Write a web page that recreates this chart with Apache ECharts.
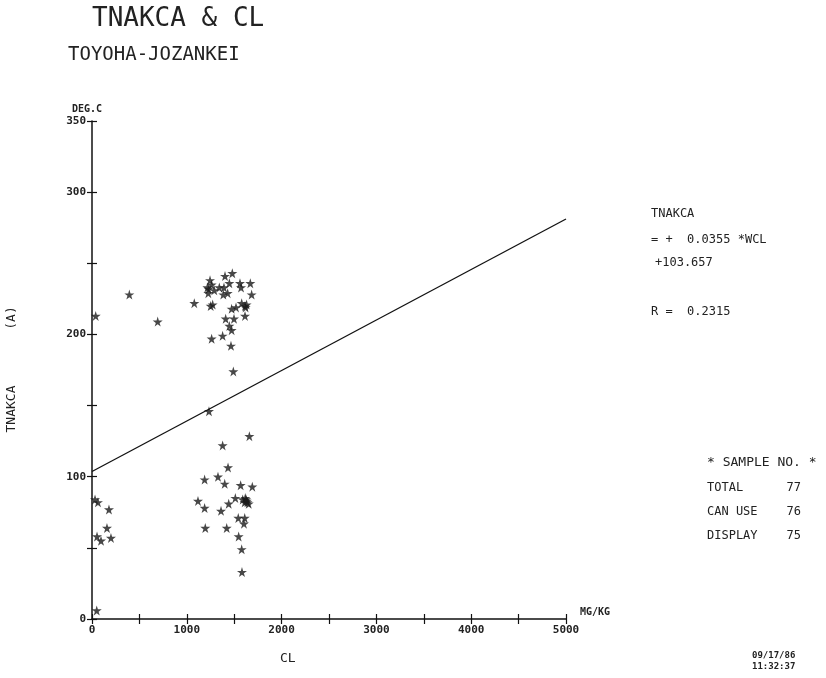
<!DOCTYPE html>
<html>
<head>
<meta charset="utf-8">
<script src="https://cdn.jsdelivr.net/npm/echarts@6/dist/echarts.min.js"></script>
<style>html,body{margin:0;padding:0;background:#fff}#c{width:826px;height:678px}</style>
</head>
<body>
<div id="c"></div>
<script>
// CL (mg/kg) and TNAKCA (deg C) sample values
const clValues = [39,394,693,32,63,179,158,53,95,200,50,
  1079,1245,1217,1262,1227,1290,1343,1403,1480,1449,1392,1385,1431,1561,1572,1670,1684,
  1273,1252,1473,1519,1579,1614,1631,1410,1498,1614,1449,1473,1262,1378,1466,1491,1620,1230,
  1234,
  1660,1378,1435,1188,1329,1400,1568,1691,1118,1188,1361,1442,1512,1590,1617,1632,1653,1611,
  1543,1611,1603,1195,1421,1547,1579,1582,1625,1640];
const tnakcaValues = [213,228,209,84,82,77,64,58,55,57,6,
  222,238,233,235,229,231,233,241,243,236,233,228,229,236,233,236,228,
  221,220,218,219,222,220,221,211,211,213,206,203,197,199,192,174,219,232,
  146,
  128.5,122,106.5,98,100,95,94,93,83,78,76,81,85,84,85,83,81,82,
  71,71,67,64,64,58,49,33,84,82];
// regression line end points (TNAKCA = 0.0355*WCL + 103.657)
const lineCL = [0, 5000];
const lineT = [103.66, 281.16];
const yLabelValues = [0, 100, 200, 300, 350];

const points = clValues.map((x, i) => [x, tnakcaValues[i]]);
const linePts = lineCL.map((x, i) => [x, lineT[i]]);
const star = 'path://M50,0 L61,35 L98,35 L68,57 L79,91 L50,70 L21,91 L32,57 L2,35 L39,35 Z';
const mono = '"DejaVu Sans Mono", "Liberation Mono", monospace';

const chart = echarts.init(document.getElementById('c'), null, {renderer: 'canvas'});
const axisCommon = {
  min: 0,
  axisLine: {show: true, lineStyle: {color: '#111', width: 1.5}},
  splitLine: {show: false}
};
chart.setOption({
  animation: false,
  backgroundColor: '#fff',
  grid: {left: 92, right: 260, top: 121, bottom: 59},
  xAxis: [
    Object.assign({}, axisCommon, {
      type: 'value', max: 5000, interval: 500,
      axisTick: {show: true, length: 5, lineStyle: {color: '#111', width: 1.2}},
      axisLabel: {color: '#222', fontFamily: mono, fontSize: 11, fontWeight: 'bold', margin: 6,
        formatter: v => (v % 1000 === 0 ? String(v) : '')}
    }),
    Object.assign({}, axisCommon, {
      type: 'value', max: 5000, interval: 500, position: 'bottom',
      axisLine: {show: false},
      axisTick: {show: true, inside: true, length: 5, lineStyle: {color: '#111', width: 1.2}},
      axisLabel: {show: false}
    })
  ],
  yAxis: [
    Object.assign({}, axisCommon, {
      type: 'value', max: 350, interval: 50,
      axisTick: {show: true, length: 5, lineStyle: {color: '#111', width: 1.2}},
      axisLabel: {color: '#222', fontFamily: mono, fontSize: 11, fontWeight: 'bold', margin: 6,
        formatter: v => (yLabelValues.indexOf(v) >= 0 ? String(v) : '')}
    }),
    Object.assign({}, axisCommon, {
      type: 'value', max: 350, interval: 50, position: 'left',
      axisLine: {show: false},
      axisTick: {show: true, inside: true, length: 5, lineStyle: {color: '#111', width: 1.2}},
      axisLabel: {show: false}
    })
  ],
  series: [
    {
      type: 'line', data: linePts, showSymbol: false, symbol: 'none',
      lineStyle: {color: '#111', width: 1.3}, silent: true
    },
    {
      type: 'scatter', data: points, symbol: star, symbolSize: 10,
      itemStyle: {color: '#1a1a1a'}
    }
  ],
  graphic: [
    {type: 'text', left: 92, top: 6, style: {text: 'TNAKCA & CL', font: '300 26px ' + mono, fill: '#222'}},
    {type: 'text', left: 68, top: 46, style: {text: 'TOYOHA-JOZANKEI', font: '19px ' + mono, fill: '#222'}},
    {type: 'text', left: 72, top: 104, style: {text: 'DEG.C', font: 'bold 10px ' + mono, fill: '#222'}},
    {type: 'text', left: 580, top: 607, style: {text: 'MG/KG', font: 'bold 10px ' + mono, fill: '#222'}},
    {type: 'text', left: 280, top: 652, style: {text: 'CL', font: '13px ' + mono, fill: '#222'}},
    {type: 'text', x: 12, y: 409, rotation: Math.PI / 2,
      style: {text: 'TNAKCA', font: '13px ' + mono, fill: '#222', textAlign: 'center', textVerticalAlign: 'middle'}},
    {type: 'text', x: 12, y: 318, rotation: Math.PI / 2,
      style: {text: '(A)', font: '13px ' + mono, fill: '#222', textAlign: 'center', textVerticalAlign: 'middle'}},
    {type: 'text', left: 651, top: 208, style: {text: 'TNAKCA', font: '12px ' + mono, fill: '#222'}},
    {type: 'text', left: 651, top: 234, style: {text: '= +  0.0355 *WCL', font: '12px ' + mono, fill: '#222'}},
    {type: 'text', left: 655, top: 257, style: {text: '+103.657', font: '12px ' + mono, fill: '#222'}},
    {type: 'text', left: 651, top: 306, style: {text: 'R =  0.2315', font: '12px ' + mono, fill: '#222'}},
    {type: 'text', left: 707, top: 456, style: {text: '* SAMPLE NO. *', font: '13px ' + mono, fill: '#222'}},
    {type: 'text', left: 707, top: 482, style: {text: 'TOTAL      77', font: '12px ' + mono, fill: '#222'}},
    {type: 'text', left: 707, top: 506, style: {text: 'CAN USE    76', font: '12px ' + mono, fill: '#222'}},
    {type: 'text', left: 707, top: 530, style: {text: 'DISPLAY    75', font: '12px ' + mono, fill: '#222'}},
    {type: 'text', left: 752, top: 651, style: {text: '09/17/86', font: 'bold 9px ' + mono, fill: '#222'}},
    {type: 'text', left: 752, top: 662, style: {text: '11:32:37', font: 'bold 9px ' + mono, fill: '#222'}}
  ]
});
</script>
</body>
</html>
